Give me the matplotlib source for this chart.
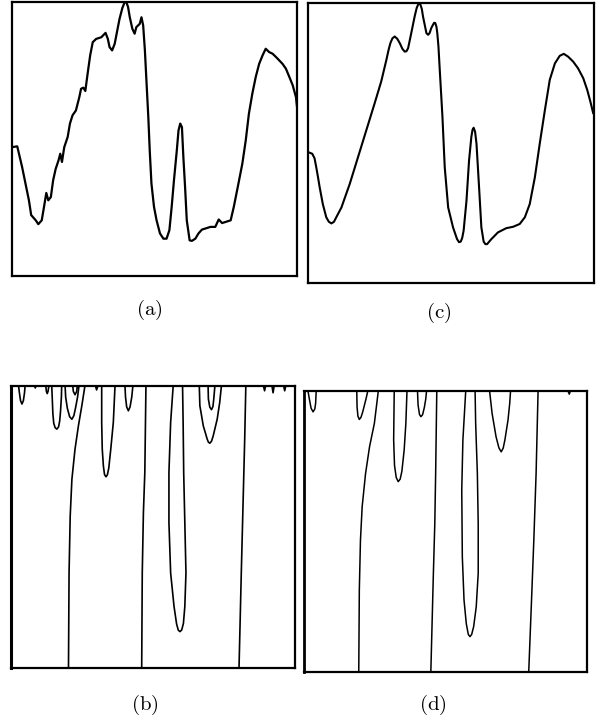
import matplotlib
matplotlib.use("Agg")
import matplotlib.pyplot as plt
import numpy as np

plt.rcParams['mathtext.fontset'] = 'cm'
plt.rcParams['lines.solid_joinstyle'] = 'round'
plt.rcParams['lines.solid_capstyle'] = 'round'

# (a) measured signal: position (0-100) and amplitude (0-100)
a_t = [0, 1.8, 3.5, 4.7, 5.9, 6.7, 8.3, 9.2, 10.4, 11.2, 12.0, 12.7, 13.6, 14.4, 15.3,
       16.3, 16.9, 17.5, 18.3, 19.5, 20.3, 21.2, 22.4, 23.6, 24.2, 25.0, 25.7, 26.5, 27.4,
       28.3, 29.5, 31.3, 32.8, 33.6, 34.2, 35.1, 36.0, 36.8, 37.7, 38.7, 39.5, 40.1, 40.7,
       41.3, 42.2, 43.0, 43.6, 44.8, 45.4, 46.0, 46.6, 47.2, 47.8, 48.3, 48.9, 49.8, 50.7,
       51.9, 53.1, 54.2, 55.2, 56.0, 56.8, 57.8, 58.4, 59.0, 59.6, 60.1, 60.7, 61.3, 62.3,
       63.1, 64.3, 65.4, 66.6, 67.8, 69.6, 71.3, 72.5, 73.7, 74.9, 76.7, 77.8, 79.2, 80.8,
       82.0, 83.1, 84.3, 85.5, 86.7, 87.9, 89.0, 90.2, 91.4, 92.6, 93.8, 94.9, 96.1, 97.3,
       98.5, 99.6, 100]
a_v = [47.1, 47.4, 39.9, 33.8, 27.7, 22.3, 20.4, 19.0, 20.4, 25.3, 30.4, 27.7, 28.9, 35.0, 39.2,
       42.3, 44.7, 41.7, 47.1, 50.8, 55.7, 58.7, 60.5, 65.4, 68.4, 68.8, 67.6, 73.9, 80.6,
       85.4, 86.6, 87.2, 88.8, 86.6, 83.6, 82.4, 84.8, 89.1, 93.9, 97.9, 100, 100, 98.2,
       94.5, 90.3, 88.5, 90.9, 92.1, 94.5, 91.5, 82.4, 70.2, 58.1, 45.9, 33.8, 25.3, 20.4,
       15.6, 13.7, 13.7, 16.8, 25.3, 35.0, 45.9, 53.2, 55.7, 54.4, 43.5, 32.6, 20.4, 13.1,
       12.9, 13.7, 15.6, 17.0, 17.4, 18.0, 18.0, 20.7, 19.4, 19.8, 20.4, 25.3, 32.6, 41.1,
       49.6, 59.3, 66.6, 72.7, 77.5, 80.6, 83.0, 81.8, 81.2, 80.0, 78.7, 77.5, 75.7, 72.7,
       69.6, 65.4, 61.7]

# (c) smoothed signal
c_t = [0, 1.5, 2.3, 2.9, 3.5, 4.1, 5.2, 6.4, 7.3, 8.2, 9.1, 9.9, 11.7, 14.6, 17.5, 20.4, 23.3,
       25.6, 27.4, 28.2, 28.8, 29.5, 30.3, 31.2, 32.1, 33.0, 33.8, 34.4, 35.0, 36.1, 37.3,
       38.0, 38.5, 38.9, 39.3, 39.8, 40.2, 41.4, 42.0, 42.5, 43.1, 43.7, 44.1, 44.5, 44.9,
       45.2, 45.6, 46.0, 47.0, 47.8, 49.0, 50.7, 52.1, 52.8, 53.4, 53.9, 54.4, 55.4, 56.3,
       57.1, 57.5, 57.9, 58.4, 58.9, 59.8, 60.6, 61.4, 62.0, 62.6, 64.1, 66.4, 69.3, 71.7,
       74.0, 75.8, 77.5, 79.3, 81.0, 82.8, 84.5, 86.3, 88.0, 89.4, 90.9, 92.7, 94.4, 96.2,
       97.6, 98.7, 99.7]
c_v = [46.7, 46.1, 44.5, 41.3, 37.8, 34.1, 28.1, 23.4, 21.8, 21.2, 21.8, 23.4, 26.9, 35.3, 44.9,
       54.5, 64.1, 71.9, 79.6, 83.3, 85.6, 87.3, 88.0, 87.2, 85.6, 83.6, 82.6, 82.7, 83.8,
       89.2, 95.2, 98.2, 99.4, 99.8, 99.4, 97.8, 95.2, 89.2, 88.6, 89.2, 91.0, 92.2, 92.9,
       92.8, 91.5, 89.2, 84.5, 77.2, 59.3, 41.3, 26.9, 19.8, 15.6, 14.5, 14.7, 16.0, 18.6,
       29.3, 43.7, 52.1, 54.6, 55.4, 54.0, 49.7, 34.1, 19.8, 14.7, 13.8, 13.8, 15.6, 18.0,
       19.5, 20.0, 21.0, 23.4, 28.1, 37.7, 49.7, 61.7, 72.5, 78.4, 81.1, 81.8, 80.8, 79.0,
       76.6, 73.1, 68.9, 64.7, 60.5]

# (b) zero-crossing contours: (position, scale depth) pairs
b_contours = [
    [(2.7, 0), (3.0, 2.5), (3.4, 5.3), (3.9, 6.5), (4.4, 5.3), (4.8, 2.5), (5.0, 0)],
    [(8.3, 0), (8.6, 0.8), (8.9, 0)],
    [(12.3, 0), (12.5, 2), (12.8, 2.8), (13.1, 2), (13.4, 0)],
    [(14.4, 0), (14.6, 5), (14.8, 10), (15.1, 13.3), (15.6, 14.9), (16.2, 15.4), (16.8, 14.6),
     (17.2, 12.5), (17.5, 9), (17.8, 4), (17.9, 0)],
    [(19.1, 0), (19.3, 4), (19.9, 8), (20.7, 11), (21.5, 11.9), (22.2, 10.6), (22.8, 7.8),
     (23.5, 4), (24.0, 0)],
    [(21.8, 0), (22.0, 2), (22.6, 3.2), (23.2, 2), (23.4, 0)],
    [(26.1, 0), (25.0, 7.1), (23.8, 14.2), (22.6, 22.5), (21.5, 33.2), (20.9, 46.3),
     (20.5, 66.4), (20.3, 100)],
    [(29.8, 0), (30.2, 1.5), (30.7, 0)],
    [(32.0, 0), (32.0, 13), (32.2, 22.5), (32.6, 28.5), (33.0, 31.5), (33.5, 32.3), (34.0, 31.6),
     (34.5, 29.2), (35.2, 22.5), (36.1, 13), (36.7, 0)],
    [(40.2, 0), (40.4, 4), (40.8, 7.5), (41.4, 8.9), (42.0, 7.5), (42.6, 4), (43.0, 0)],
    [(47.6, 0), (47.2, 30.8), (46.7, 45.1), (46.3, 66.4), (46.1, 100)],
    [(57.2, 0), (56.3, 13), (55.7, 30.8), (55.7, 48.6), (56.3, 66.4), (57.5, 78.3), (58.4, 84.5),
     (59.0, 86.7), (59.6, 87.2), (60.2, 86.6), (60.8, 84.3), (61.3, 78.3), (61.7, 66.4),
     (61.3, 48.6), (60.9, 30.8), (60.7, 13), (60.5, 0)],
    [(66.4, 0), (66.6, 7.1), (67.8, 14.2), (69.2, 19), (69.6, 20.0), (70.1, 20.4), (70.7, 19.7),
     (71.3, 17.8), (72.7, 11.9), (73.6, 5.9), (74.2, 0)],
    [(69.5, 0), (69.6, 4.7), (70.1, 7.6), (70.7, 8.5), (71.2, 7.4), (71.5, 4.7), (71.9, 0)],
    [(82.8, 0), (82.4, 19), (81.8, 42.7), (81.2, 66.4), (80.4, 100)],
    [(89.0, 0), (89.4, 1.8), (89.8, 0)],
    [(92.0, 0), (92.4, 2.5), (92.8, 0)],
    [(96.1, 0), (96.5, 1.8), (96.9, 0)],
]

# (d) zero-crossing contours of the smoothed signal
d_contours = [
    [(1.5, 0), (2.0, 3.0), (2.6, 6.2), (3.3, 7.5), (3.9, 6.5), (4.2, 4.5), (4.4, 0)],
    [(18.7, 0), (18.8, 5.7), (19.1, 9.0), (19.6, 10.2), (20.2, 9.4), (20.8, 7.5), (22.0, 2.7), (22.6, 0)],
    [(26.3, 0), (24.9, 11.6), (23.2, 19.9), (21.8, 29.4), (20.6, 41.2), (20.0, 53.1),
     (19.6, 70.9), (19.4, 100)],
    [(31.9, 0), (31.7, 17.5), (32.0, 26.5), (32.6, 30.8), (33.3, 32.3), (34.0, 31.4), (34.6, 28.6),
     (35.4, 21.1), (36.0, 11.6), (36.4, 0)],
    [(40.1, 0), (40.3, 5.0), (40.8, 8.4), (41.3, 9.2), (41.9, 8.5), (42.5, 6.0), (43.0, 3.0), (43.3, 0)],
    [(46.9, 0), (46.5, 29.4), (46.2, 47.2), (45.7, 64.9), (44.8, 100)],
    [(57.1, 0), (56.1, 17.5), (55.7, 35.3), (55.9, 59), (56.5, 74.4), (57.3, 82.8), (58.0, 86.6),
     (58.6, 87.4), (59.2, 86.6), (59.9, 83.8), (60.8, 76.8), (61.5, 64.9), (61.5, 47.2),
     (61.2, 29.4), (60.6, 11.6), (60.4, 0)],
    [(65.5, 0), (66.4, 8.1), (67.8, 16.4), (68.8, 20.3), (69.6, 21.7), (70.3, 20.4), (70.9, 17.5),
     (72.0, 10.4), (72.6, 4.5), (72.9, 0)],
    [(82.6, 0), (81.9, 29.4), (81.1, 53.1), (80.2, 76.8), (79.3, 100)],
    [(93.1, 0), (93.6, 1.2), (94.0, 0)],
]

fig = plt.figure(figsize=(6.05, 7.25), dpi=100)

def frame(ax):
    ax.set_xticks([])
    ax.set_yticks([])
    for s in ax.spines.values():
        s.set_linewidth(1.6)
        s.set_color('black')

ax_a = fig.add_axes([0.020, 0.619, 0.471, 0.378])
ax_a.plot(a_t, a_v, color='black', lw=1.6)
ax_a.set_xlim(0, 100)
ax_a.set_ylim(0, 100)
frame(ax_a)

ax_c = fig.add_axes([0.509, 0.610, 0.473, 0.386])
ax_c.plot(c_t, c_v, color='black', lw=1.5)
ax_c.set_xlim(0, 100)
ax_c.set_ylim(0, 100)
frame(ax_c)

ax_b = fig.add_axes([0.018, 0.079, 0.469, 0.389])
for cc in b_contours:
    xs = [p[0] for p in cc]
    ys = [p[1] for p in cc]
    ax_b.plot(xs, ys, color='black', lw=1.2)
ax_b.set_xlim(0, 100)
ax_b.set_ylim(100, 0)
frame(ax_b)
ax_b.spines['left'].set_linewidth(2.2)

ax_d = fig.add_axes([0.502, 0.073, 0.469, 0.388])
for cc in d_contours:
    xs = [p[0] for p in cc]
    ys = [p[1] for p in cc]
    ax_d.plot(xs, ys, color='black', lw=1.1)
ax_d.set_xlim(0, 100)
ax_d.set_ylim(100, 0)
frame(ax_d)
ax_d.spines['left'].set_linewidth(2.0)

# panel captions
fig.text(149 / 605, 1 - 310 / 725, r'$\mathrm{(a)}$', fontsize=15, ha='center', va='center')
fig.text(439 / 605, 1 - 313 / 725, r'$\mathrm{(c)}$', fontsize=15, ha='center', va='center')
fig.text(145 / 605, 1 - 705 / 725, r'$\mathrm{(b)}$', fontsize=15, ha='center', va='center')
fig.text(433 / 605, 1 - 705 / 725, r'$\mathrm{(d)}$', fontsize=15, ha='center', va='center')

fig.savefig('out.png', dpi=100)
